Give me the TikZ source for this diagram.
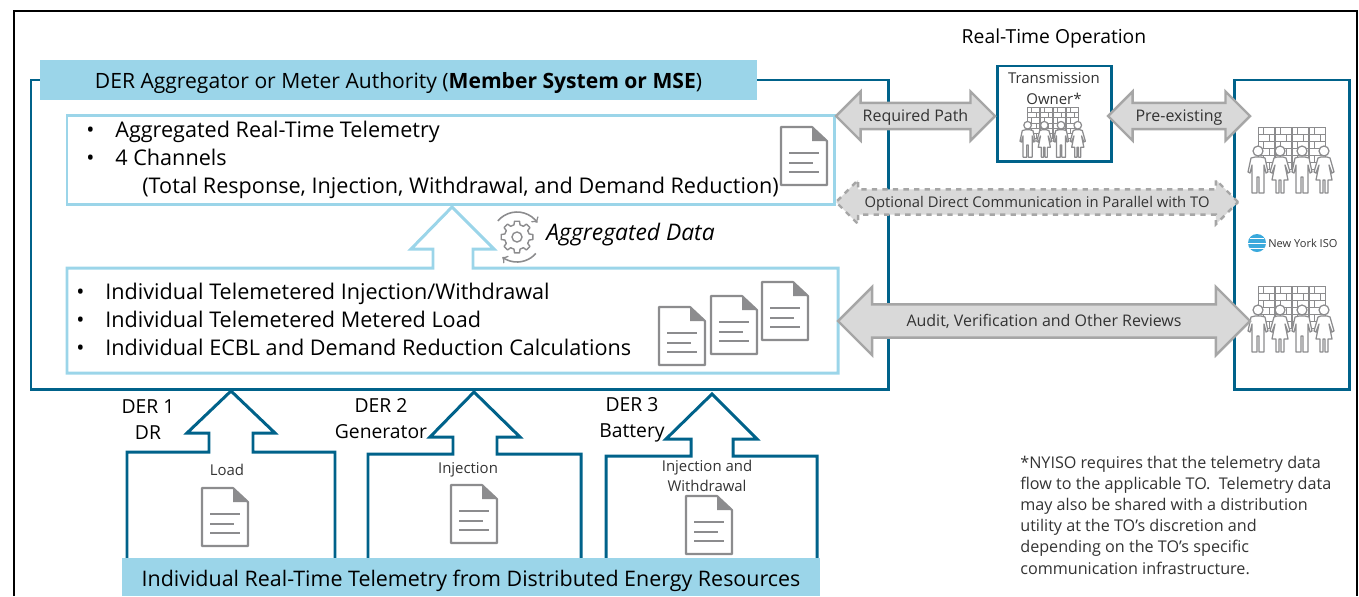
\documentclass[tikz,border=0pt]{standalone}
\usepackage{fontspec}
\setmainfont{Open Sans}
\usetikzlibrary{shapes.arrows}
\definecolor{tealline}{HTML}{00628A}
\definecolor{skyband}{HTML}{9BD5E9}
\definecolor{arrowline}{HTML}{A6A6A6}
\definecolor{arrowfill}{HTML}{D9D9D9}
\definecolor{iconline}{HTML}{8C8C8E}
\definecolor{noteink}{HTML}{333333}
\definecolor{globeblue}{HTML}{3AA9DC}
\newcommand{\bul}[1]{\makebox[#1][l]{\textbullet}}
\tikzset{
  tealpath/.style={draw=tealline,line width=1.7pt,line join=miter},
  skypath/.style={draw=skyband,line width=1.7pt,line join=miter},
  band/.style={fill=skyband,inner sep=0pt,text height=9.8pt,text depth=0pt,font=\fontsize{12}{14}\selectfont},
  lab/.style={inner sep=0pt,align=center,font=\fontsize{11}{14.7}\selectfont},
  biglab/.style={inner sep=0pt,align=left,anchor=north west,font=\fontsize{12.3}{15.9}\selectfont},
  minilab/.style={inner sep=0pt,align=center,text=noteink,font=\fontsize{8.5}{11.5}\selectfont},
  bigarrow/.style 2 args={double arrow,draw=arrowline,fill=arrowfill,line width=1.4pt,
    double arrow head extend=#1,inner xsep=0pt,inner ysep=#2,text height=7.2pt,text depth=1.3pt,
    text=noteink,font=\fontsize{9.1}{10}\selectfont},
  pics/docicon/.style={code={
    \draw[iconline,line width=1.2pt,line join=round,fill=white] (0,0) -- (31,0) -- (46,14) -- (46,58) -- (0,58) -- cycle;
    \fill[iconline] (31,0) -- (46,14) -- (31,14) -- cycle;
    \draw[iconline,line width=1.5pt] (8,26) -- (38,26) (8,36) -- (32,36) (8,45) -- (38,45);
  }},
  pics/staffwall/.style={code={
    \foreach \c in {10,27,44,61}{
      \draw[iconline,line width=.5pt] (\c,0) rectangle (\c+16,42);
      \foreach \r in {7,14,21,28,35}{\draw[iconline,line width=.5pt] (\c,\r) -- (\c+16,\r);}
      \foreach \r in {0,14,28}{\draw[iconline,line width=.5pt] (\c+5,\r) -- (\c+5,\r+7) (\c+11,\r+7) -- (\c+11,\r+14);}
    }
    \foreach \c in {10,54}{
      \draw[iconline,line width=.7pt,fill=white,line join=round,shift={(\c,0)}] (-3,30) -- (-7,31) -- (-10,45) -- (-8,46) -- (-6,38) -- (-6,66) -- (-1,66) -- (-1,50) -- (1,50) -- (1,66) -- (6,66) -- (6,38) -- (8,46) -- (10,45) -- (7,31) -- (3,30) -- cycle;
      \draw[iconline,line width=.7pt,fill=white] (\c,24) circle[radius=5];
    }
    \foreach \c in {32,76}{
      \draw[iconline,line width=.7pt,fill=white,line join=round,shift={(\c,0)}] (-3,30) -- (-6,31) -- (-10,45) -- (-8,46) -- (-5,38) -- (-8,53) -- (-4,53) -- (-4,66) -- (-1,66) -- (-1,53) -- (1,53) -- (1,66) -- (4,66) -- (4,53) -- (8,53) -- (5,38) -- (8,46) -- (10,45) -- (6,31) -- (3,30) -- cycle;
      \draw[iconline,line width=.7pt,fill=white] (\c,24) circle[radius=5];
    }
  }},
  pics/gearcycle/.style={code={
    \draw[iconline,line width=.8pt,line join=round] (9:16) \foreach \a in {0,45,...,315}{
      -- (\a+9:16) -- (\a+14:12.5) -- (\a+31:12.5) -- (\a+36:16)} -- cycle;
    \draw[iconline,line width=.8pt] (0,0) circle[radius=5];
    \draw[iconline,line width=.9pt,->] plot[smooth,domain=-140:-35,samples=12] (\x:25);
    \draw[iconline,line width=.9pt,->] plot[smooth,domain=-41:-126,samples=12] (-\x:25);
  }}
}
\begin{document}
\begin{tikzpicture}[x=0.02cm,y=-0.02cm]
\useasboundingbox (0,0) rectangle (1359,596);
% outer frame
\draw[black,line width=1.5pt] (14,596) -- (14,11) -- (1357,11) -- (1357,596);
% aggregator
\draw[tealpath] (31,80) rectangle (888,389);
\node[band,minimum width=717*0.02cm,minimum height=40*0.02cm] (aggband) at (398.5,80) {DER Aggregator or Meter Authority (\textbf{Member System or MSE})};
\draw[skypath] (67,115) rectangle (834,204);
\node[biglab] (aggtext) at (86,120.5) {\bul{29\dimexpr0.02cm\relax}Aggregated Real-Time Telemetry\\
\bul{29\dimexpr0.02cm\relax}4 Channels\\
\hspace{56\dimexpr0.02cm\relax}(Total Response, Injection, Withdrawal, and Demand Reduction)};
\draw[skypath] (433,268) -- (433,249) -- (411,249) -- (452,207) -- (494,249) -- (473,249) -- (473,268) -- (838,268) -- (838,373) -- (67,373) -- (67,268) -- cycle;
\node[biglab] (indivtext) at (76,283) {\bul{29\dimexpr0.02cm\relax}Individual Telemetered Injection/Withdrawal\\
\bul{29\dimexpr0.02cm\relax}Individual Telemetered Metered Load\\
\bul{29\dimexpr0.02cm\relax}Individual ECBL and Demand Reduction Calculations};
\pic at (781,127) {docicon};
\pic at (659,307) {docicon};
\pic at (711,296) {docicon};
\pic at (762,282) {docicon};
\pic at (517,237) {gearcycle};
\node[lab,anchor=west,font=\fontsize{13}{15}\selectfont\itshape] (aggdata) at (546,235) {Aggregated Data};
% DER units
\draw[tealpath] (127,558) -- (127,452) -- (209,452) -- (209,433) -- (187,433) -- (231,391) -- (275,433) -- (253,433) -- (253,452) -- (335,452) -- (335,558);
\draw[tealpath] (368,558) -- (368,454) -- (453,454) -- (453,437) -- (430,437) -- (474,392) -- (520,437) -- (497,437) -- (497,454) -- (581,454) -- (581,558);
\draw[tealpath] (606,558) -- (606,456) -- (691,456) -- (691,439) -- (666,439) -- (712,394) -- (757,439) -- (733,439) -- (733,456) -- (817,456) -- (817,558);
\node[lab] (der1) at (148,420) {DER 1\\DR};
\node[lab] (der2) at (381,419) {DER 2\\Generator};
\node[lab] (der3) at (632,420) {DER 3\\Battery};
\node[minilab] (load) at (227,470) {Load};
\node[minilab] (inj) at (468,470) {Injection};
\node[minilab] (injwd) at (707,476) {Injection and\\Withdrawal};
\pic at (202,488) {docicon};
\pic at (451,485) {docicon};
\pic at (686,496) {docicon};
\node[band,minimum width=698*0.02cm,minimum height=38*0.02cm,text height=10.3pt,font=\fontsize{12.2}{14}\selectfont] (derband) at (471,577) {Individual Real-Time Telemetry from Distributed Energy Resources};
% transmission owner and iso
\node[lab] (rtop) at (1054,38) {Real-Time Operation};
\draw[tealpath] (997,66) rectangle (1111,161);
\node[minilab] (towner) at (1054,88.5) {Transmission\\Owner*};
\pic[scale=.76] at (1020,107) {staffwall};
\draw[tealpath] (1234,80) rectangle (1349,389);
\pic at (1248,127) {staffwall};
\pic at (1248,286) {staffwall};
\fill[globeblue] (1257,243) circle[radius=9];
\draw[white,line width=.4pt] (1248,243) -- (1266,243) (1250,238) -- (1264,238) (1250,248) -- (1264,248);
\node[minilab,anchor=west,font=\fontsize{6.3}{8}\selectfont] (nyiso) at (1268,243) {New York ISO};
% paths
\node[bigarrow={6.5pt}{2.5pt},minimum height=159*0.02cm,minimum width=47*0.02cm] (reqpath) at (915.5,116) {Required Path};
\node[bigarrow={6.5pt}{2.5pt},minimum height=142*0.02cm,minimum width=47*0.02cm] (preexist) at (1179,116) {Pre-existing};
\node[bigarrow={5.4pt}{2.2pt},dashed,minimum height=402*0.02cm,minimum width=42*0.02cm,font=\fontsize{8.4}{10}\selectfont] (optpath) at (1037,202) {Optional Direct Communication in Parallel with TO};
\node[bigarrow={10pt}{4.5pt},minimum height=412*0.02cm,minimum width=67*0.02cm] (audit) at (1044,321) {Audit, Verification and Other Reviews};
% footnote
\node[minilab,anchor=north west,align=left,font=\fontsize{9.2}{12}\selectfont] (note) at (1020,456) {*NYISO requires that the telemetry data\\
flow to the applicable TO.\ \ Telemetry data\\
may also be shared with a distribution\\
utility at the TO's discretion and\\
depending on the TO's specific\\
communication infrastructure.};
\end{tikzpicture}
\end{document}
